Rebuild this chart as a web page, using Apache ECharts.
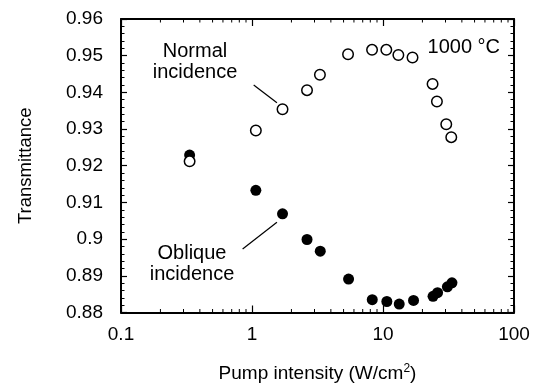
<!DOCTYPE html>
<html><head><meta charset="utf-8">
<script src="https://cdn.jsdelivr.net/npm/echarts@6/dist/echarts.min.js"></script>
<style>html,body{margin:0;padding:0;background:#fff}#c{width:542px;height:388px}</style>
</head><body><div id="c"></div>
<script>
// Pump intensity (W/cm^2)
const normalX = [0.334, 1.07, 1.71, 2.63, 3.30, 5.41, 8.25, 10.6, 13.1, 16.8, 23.9, 25.8, 30.4, 33.2];
const normalY = [0.9212, 0.9296, 0.9354, 0.9406, 0.9448, 0.9504, 0.9516, 0.9516, 0.9502, 0.9495, 0.9423, 0.9375, 0.9313, 0.9278];
const obliqueX = [0.334, 1.07, 1.71, 2.63, 3.32, 5.46, 8.28, 10.7, 13.3, 17.1, 24.1, 26.1, 31.0, 33.6];
const obliqueY = [0.9229, 0.9133, 0.9069, 0.8999, 0.8967, 0.8891, 0.8835, 0.8830, 0.8823, 0.8833, 0.8844, 0.8854, 0.8870, 0.8881];
const xTicks = [0.1, 1, 10, 100];
const yTicks = [0.88, 0.89, 0.9, 0.91, 0.92, 0.93, 0.94, 0.95, 0.96];
const normalLeader = [[1.03, 0.9420], [1.55, 0.9372]];
const obliqueLeader = [[0.848, 0.8973], [1.55, 0.9046]];

const xMinor = [];
for (let d = 0.1; d < 100; d *= 10) for (let k = 2; k <= 9; k++) xMinor.push([+(d * k).toPrecision(3)]);

const FONT = 'Liberation Sans, Arial, sans-serif';
const chart = echarts.init(document.getElementById('c'));
const yMin = yTicks[0], yMax = yTicks[yTicks.length - 1];
const fmtY = v => String(parseFloat(v.toFixed(2)));
const fmtX = v => String(parseFloat(v.toPrecision(3)));

const baseX = {
  type: 'log', logBase: 10, min: xTicks[0], max: xTicks[xTicks.length - 1],
  axisLine: {show: true, lineStyle: {color: '#000', width: 2}},
  axisTick: {show: true, inside: true, length: 7, lineStyle: {color: '#000', width: 1.2}},
  splitLine: {show: false}, minorTick: {show: false}
};
const baseY = {
  type: 'value', min: yMin, max: yMax, interval: 0.01,
  axisLine: {show: true, lineStyle: {color: '#000', width: 2}},
  axisTick: {show: true, inside: true, length: 6, lineStyle: {color: '#000', width: 1.2}},
  minorTick: {show: true, splitNumber: 5, length: 3.5, lineStyle: {color: '#000', width: 1}},
  splitLine: {show: false}
};

chart.setOption({
  animation: false,
  backgroundColor: '#fff',
  grid: {left: 121, right: 28, top: 19, bottom: 75},
  xAxis: [
    Object.assign({}, baseX, {position: 'bottom',
      name: 'Pump intensity (W/cm{sup|2})', nameLocation: 'middle', nameGap: 50,
      nameTextStyle: {fontFamily: FONT, fontSize: 19, color: '#000',
        rich: {sup: {fontSize: 12, verticalAlign: 'top', padding: [0,0,10,0], fontFamily: FONT, color:'#000'}}},
      axisLabel: {show: true, formatter: fmtX, fontFamily: FONT, fontSize: 19, color: '#000', margin: 13}}),
    Object.assign({}, baseX, {position: 'top', axisLabel: {show: false}})
  ],
  yAxis: [
    Object.assign({}, baseY, {position: 'left',
      name: 'Transmittance', nameLocation: 'middle', nameGap: 86,
      nameTextStyle: {fontFamily: FONT, fontSize: 18.5, color: '#000'},
      axisLabel: {show: true, formatter: fmtY, fontFamily: FONT, fontSize: 19, color: '#000', margin: 18}}),
    Object.assign({}, baseY, {position: 'right', axisLabel: {show: false}})
  ],
  series: [
    {
      type: 'custom', xAxisIndex: 0, yAxisIndex: 0, silent: true, clip: false,
      data: xMinor,
      renderItem: function (params, api) {
        const pb = api.coord([api.value(0), yMin]);
        const pt = api.coord([api.value(0), yMax]);
        return {type: 'group', children: [
          {type: 'line', shape: {x1: pb[0], y1: pb[1], x2: pb[0], y2: pb[1] - 3.5}, style: {stroke: '#000', lineWidth: 1}},
          {type: 'line', shape: {x1: pt[0], y1: pt[1], x2: pt[0], y2: pt[1] + 3.5}, style: {stroke: '#000', lineWidth: 1}}
        ]};
      }
    },
    {
      name: 'Normal incidence', type: 'scatter', symbol: 'circle', symbolSize: 10.5,
      data: normalX.map((x, i) => [x, normalY[i]]),
      itemStyle: {color: '#fff', borderColor: '#000', borderWidth: 1.5, opacity: 1}, z: 3
    },
    {
      name: 'Oblique incidence', type: 'scatter', symbol: 'circle', symbolSize: 11,
      data: obliqueX.map((x, i) => [x, obliqueY[i]]),
      itemStyle: {color: '#000', opacity: 1}, z: 2
    },
    {
      type: 'line', data: normalLeader, symbol: 'none', silent: true,
      lineStyle: {color: '#000', width: 1.2}
    },
    {
      type: 'line', data: obliqueLeader, symbol: 'none', silent: true,
      lineStyle: {color: '#000', width: 1.2}
    }
  ],
  graphic: [
    {type: 'text', style: {text: 'Normal\nincidence', x: 195, y: 62, font: '20px ' + FONT, fill: '#000', textAlign: 'center', textVerticalAlign: 'middle', lineHeight: 21}},
    {type: 'text', style: {text: 'Oblique\nincidence', x: 192, y: 264, font: '20px ' + FONT, fill: '#000', textAlign: 'center', textVerticalAlign: 'middle', lineHeight: 21}},
    {type: 'text', style: {text: '1000 °C', x: 500, y: 47, font: '20px ' + FONT, fill: '#000', textAlign: 'right', textVerticalAlign: 'middle'}}
  ]
});
</script></body></html>
